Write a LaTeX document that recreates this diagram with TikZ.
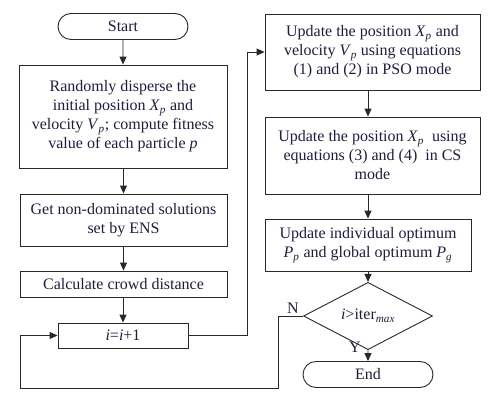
\documentclass[tikz,border=0pt]{standalone}
\usepackage{fontspec}
\setmainfont{Liberation Serif}
\usetikzlibrary{shapes.misc,shapes.geometric,arrows.meta}
\definecolor{txt}{RGB}{30,30,60}
\definecolor{ln}{RGB}{40,40,40}
\newcommand{\vsub}[2]{\textit{#1}\textsubscript{\textit{#2}}}
\begin{document}
\begin{tikzpicture}[x=1pt,y=-1pt,
  font=\fontsize{16}{19}\selectfont,
  every node/.style={text=txt},
  box/.style={draw=ln,line width=0.9pt,rectangle,align=center,inner sep=0pt},
  term/.style={draw=ln,line width=0.9pt,rounded rectangle,inner sep=0pt,minimum width=130pt,minimum height=26pt},
  dec/.style={draw=ln,line width=0.9pt,diamond,inner sep=0pt,minimum width=129pt,minimum height=38pt},
  conn/.style={draw=ln,line width=0.9pt},
  arr/.style={conn,-{Triangle[length=8pt,width=7pt]}}]
\useasboundingbox (0,0) rectangle (500,418);
\node[term] (start) at (123,26.5) {Start};
\node[box,minimum width=208pt,minimum height=103pt] (b1) at (123,116.5)
  {Randomly disperse the\\ initial position \vsub{X}{p} and\\ velocity \vsub{V}{p}; compute fitness\\ value of each particle \textit{p}};
\node[box,minimum width=207pt,minimum height=52pt] (b2) at (123.5,220) {Get non-dominated solutions\\ set by ENS};
\node[box,minimum width=207pt,minimum height=26pt] (b3) at (123.5,284) {Calculate crowd distance};
\node[box,minimum width=130pt,minimum height=25pt] (b4) at (123,335.5) {\textit{i}=\textit{i}+1};
\node[box,minimum width=215pt,minimum height=76pt] (r1) at (372.5,52)
  {Update the position \vsub{X}{p} and\\ velocity \vsub{V}{p} using equations\\ (1) and (2) in PSO mode};
\node[box,minimum width=215pt,minimum height=77pt] (r2) at (372.5,155.5)
  {Update the position \vsub{X}{p}\ \ using\\ equations (3) and (4)\ \ in CS\\ mode};
\node[box,minimum width=206pt,minimum height=52pt] (r3) at (368,245)
  {Update individual optimum\\ \vsub{P}{p} and global optimum \vsub{P}{g}};
\node[dec] (d) at (368,316) {\textit{i}>iter\textsubscript{\textit{max}}};
\node[term] (end) at (368,374.5) {End};
\node (n) at (293,308) {N};
\node (y) at (355,347) {Y};
\coordinate (c1) at (247,335.5);
\coordinate (c2) at (247,52);
\coordinate (c3) at (278,316);
\coordinate (c4) at (278,388);
\coordinate (c5) at (20,388);
\coordinate (c6) at (20,335.5);
\draw[arr] (start) -- (b1);
\draw[arr] (b1.south -| b2.north) -- (b2.north);
\draw[arr] (b2) -- (b3);
\draw[arr] (b3.south -| b4.north) -- (b4.north);
\draw[arr] (b4.east) -- (c1) -- (c2) -- (r1.west);
\draw[arr] (r1.south -| d.north) -- (r2.north -| d.north);
\draw[arr] (r2.south -| d.north) -- (r3.north -| d.north);
\draw[arr] (r3) -- (d);
\draw[arr] (d) -- (end);
\draw[arr] (d.west) -- (c3) -- (c4) -- (c5) -- (c6) -- (b4.west);
\end{tikzpicture}
\end{document}
